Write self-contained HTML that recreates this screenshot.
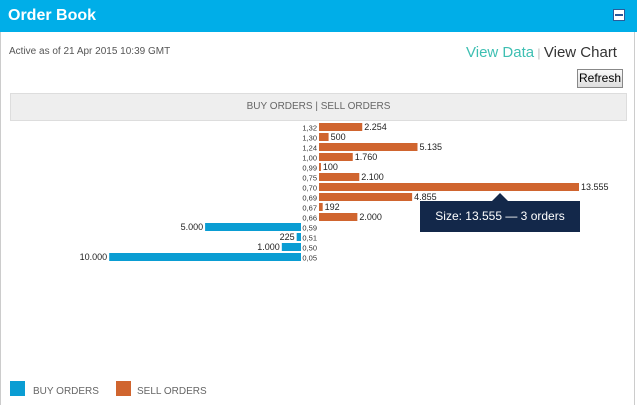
<!DOCTYPE html>
<html><head><meta charset="utf-8"><style>
body{margin:0;width:637px;height:405px;overflow:hidden;background:#fff;font-family:"Liberation Sans",sans-serif;position:relative}
.abs{position:absolute}
</style></head><body>
<div class="abs" style="left:0;top:0;width:635px;height:405px;border-left:1px solid #ccc;border-right:1px solid #ccc;box-sizing:border-box"></div>
<div class="abs" style="left:0;top:0;width:637px;height:32px;background:#00aee8"></div>
<div class="abs" style="left:8px;top:7px;color:#fff;font-size:16px;font-weight:bold">Order Book</div>
<div class="abs" style="left:613px;top:9px;width:12px;height:12px;background:#fff;border:1px solid #2a5b9a;box-sizing:border-box"><div style="position:absolute;left:1px;top:4px;width:8px;height:2px;background:#2a5b9a"></div></div>
<div class="abs" style="left:9px;top:46px;font-size:10px;color:#555">Active as of 21 Apr 2015 10:39 GMT</div>
<div class="abs" style="left:466px;top:44px;font-size:15px;color:#333"><span style="color:#3ebfb2">View Data</span><span style="color:#bbb;font-size:12px"> | </span><span>View Chart</span></div>
<div class="abs" style="left:577px;top:69px;width:46px;height:19px;border:1px solid #888;background:linear-gradient(#fafafa,#ddd);box-sizing:border-box;font-size:12px;line-height:17px;text-align:center;color:#000">Refresh</div>
<div class="abs" style="left:10px;top:93px;width:617px;height:28px;background:#eee;border:1px solid #ddd;box-sizing:border-box;font-size:10px;color:#666;text-align:center;line-height:26px">BUY ORDERS | SELL ORDERS</div>
<svg class="abs" style="left:0;top:0" width="637" height="405" id="chart"></svg>
<div class="abs" style="left:420px;top:201px;width:160px;height:31px;background:#13284a;color:#fff;font-size:12px;line-height:31px;text-align:center">Size: 13.555 — 3 orders</div>
<div class="abs" style="left:492px;top:193px;width:0;height:0;border-left:8px solid transparent;border-right:8px solid transparent;border-bottom:8px solid #13284a"></div>
<div class="abs" style="left:10px;top:381px;width:15px;height:15px;background:#0a9dd3"></div>
<div class="abs" style="left:33px;top:386px;font-size:10px;color:#666">BUY ORDERS</div>
<div class="abs" style="left:116px;top:381px;width:15px;height:15px;background:#d0652f"></div>
<div class="abs" style="left:137px;top:386px;font-size:10px;color:#666">SELL ORDERS</div>
<script>
const prices=["1,32","1,30","1,24","1,00","0,99","0,75","0,70","0,69","0,67","0,66","0,59","0,51","0,50","0,05"];
const sellValues=[2254,500,5135,1760,100,2100,13555,4855,192,2000,0,0,0,0];
const buyValues=[0,0,0,0,0,0,0,0,0,0,5000,225,1000,10000];
const svg=document.getElementById('chart');
const NS='http://www.w3.org/2000/svg';
const scale=260/13555;
const rowY=i=>123+i*10;
const sx=v=>v*scale;
function fmt(v){return v.toLocaleString('de-DE');}
prices.forEach((p,i)=>{
  const y=rowY(i);
  const t=document.createElementNS(NS,'text');
  
  
  t.setAttribute('x',317);t.setAttribute('y',y+7.5);t.setAttribute('text-anchor','end');
  t.setAttribute('font-size','7.5');t.setAttribute('fill','#333');t.setAttribute('font-family','Liberation Sans');
  t.textContent=p;svg.appendChild(t);
  if(sellValues[i]>0){
    const w=sx(sellValues[i]);
    const r=document.createElementNS(NS,'rect');
    
    
    r.setAttribute('x',319);r.setAttribute('y',y);r.setAttribute('width',w);r.setAttribute('height',8);r.setAttribute('fill','#d0652f');
    svg.appendChild(r);
    const l=document.createElementNS(NS,'text');
    
    
    l.setAttribute('x',319+w+2);l.setAttribute('y',y+7);l.setAttribute('font-size','9');l.setAttribute('fill','#222');l.setAttribute('font-family','Liberation Sans');
    l.textContent=fmt(sellValues[i]);svg.appendChild(l);
  }
  if(buyValues[i]>0){
    const w=sx(buyValues[i]);
    const r=document.createElementNS(NS,'rect');
    
    
    r.setAttribute('x',301-w);r.setAttribute('y',y);r.setAttribute('width',w);r.setAttribute('height',8);r.setAttribute('fill','#0a9dd3');
    svg.appendChild(r);
    const l=document.createElementNS(NS,'text');
    
    
    l.setAttribute('x',301-w-2);l.setAttribute('y',y+7);l.setAttribute('text-anchor','end');l.setAttribute('font-size','9');l.setAttribute('fill','#222');l.setAttribute('font-family','Liberation Sans');
    l.textContent=fmt(buyValues[i]);svg.appendChild(l);
  }
});
</script>
</body></html>
